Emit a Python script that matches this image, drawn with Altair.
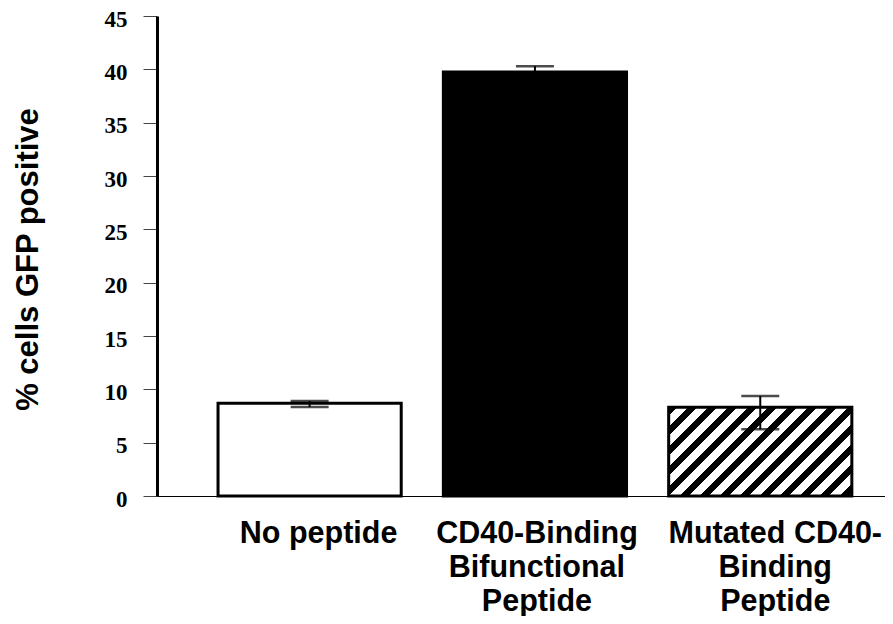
import altair as alt
import pandas as pd

# ---- data ----
categories = ["No peptide", "CD40-Binding Bifunctional Peptide", "Mutated CD40-Binding Peptide"]
label_lines = [["No peptide"], ["CD40-Binding", "Bifunctional", "Peptide"], ["Mutated CD40-", "Binding", "Peptide"]]
values = [8.7, 39.75, 8.32]
err_low = [8.35, 39.2, 6.25]
err_high = [8.9, 40.3, 9.37]
fills = ["white", "black", "hatch"]
y_ticks = [0, 5, 10, 15, 20, 25, 30, 35, 40, 45]
y_title = "% cells GFP positive"

# ---- layout / style constants ----
PAD_LEFT, PAD_TOP, PAD_RIGHT, PAD_BOTTOM = 149, 8, 0, 120
PLOT_W, PLOT_H = 728, 480
Y_MAX = 45
P_INNER, P_OUTER, ALIGN = 0.187, 0.209, 0.648

df = pd.DataFrame({
    "category": categories,
    "value": values,
    "low": err_low,
    "high": err_high,
    "fill": fills,
})

# hatch pattern as a striped linear gradient (45 degree stripes)
step = PLOT_W / (len(categories) - P_INNER + 2 * P_OUTER)
bw = step * (1 - P_INNER)
hatch_val = values[fills.index("hatch")]
bh = hatch_val / Y_MAX * PLOT_H
r = bh / bw
s = (bw + bh) / (bw * (1 + r * r))
period = 20.0 / (bw + bh)
black_frac = 0.42
stops = []
k = 0
while k * period < 1.0:
    a = k * period
    b = min(a + black_frac * period, 1.0)
    c = min(a + period, 1.0)
    stops.append(alt.GradientStop(offset=round(a, 5), color="black"))
    stops.append(alt.GradientStop(offset=round(b, 5), color="black"))
    stops.append(alt.GradientStop(offset=round(b, 5), color="white"))
    stops.append(alt.GradientStop(offset=round(c, 5), color="white"))
    k += 1
hatch = alt.LinearGradient(gradient="linear", stops=stops, x1=0, y1=0, x2=s, y2=s * r)


def js(t):
    return "'" + t.replace("'", "\\'") + "'"


def arr(lines):
    return "[" + ",".join(js(l) for l in lines) + "]"


label_expr = arr(label_lines[-1])
for cat, lines in reversed(list(zip(categories, label_lines))[:-1]):
    label_expr = f"datum.value === {js(cat)} ? {arr(lines)} : {label_expr}"

x_enc = alt.X(
    "category:N",
    sort=categories,
    title=None,
    scale=alt.Scale(paddingInner=P_INNER, paddingOuter=P_OUTER, align=ALIGN),
    axis=alt.Axis(
        labelExpr=label_expr,
        labelAngle=0,
        labelAlign="center",
        labelBaseline="top",
        labelFont="Liberation Sans",
        labelFontWeight="bold",
        labelFontSize=30.5,
        labelColor="black",
        labelLineHeight=34,
        labelPadding=22,
        labelLimit=1000,
        labelOffset={
            "condition": [
                {"test": f"datum.value === {js(categories[0])}", "value": 9},
                {"test": f"datum.value === {js(categories[2])}", "value": 15},
            ],
            "value": 2,
        },
        ticks=False,
        tickSize=0,
        domainColor="black",
        domainWidth=1.2,
        grid=False,
    ),
)

y_scale = alt.Scale(domain=[0, Y_MAX], nice=False, zero=True)
y_enc = alt.Y(
    "value:Q",
    scale=y_scale,
    axis=alt.Axis(
        values=y_ticks,
        title=y_title,
        titleFont="Liberation Sans",
        titleFontWeight="bold",
        titleFontSize=31,
        titleColor="black",
        titleAngle=270,
        titleAlign="center",
        titleBaseline="alphabetic",
        titleX=-120,
        titleY=243,
        labelFont="Liberation Serif",
        labelFontWeight="bold",
        labelFontSize=23,
        labelColor="black",
        labelPadding=16,
        labelOffset=3,
        tickSize=14,
        tickColor="#444444",
        tickWidth=1,
        domainColor="black",
        domainWidth=3,
        grid=False,
    ),
)

base = alt.Chart(df)

solid_bars = base.transform_filter("datum.fill !== 'hatch'").mark_bar(
    stroke="black", strokeWidth=3
).encode(x=x_enc, y=y_enc, fill=alt.Fill("fill:N", scale=None))

hatch_bar = base.transform_filter("datum.fill === 'hatch'").mark_bar(
    stroke="black", strokeWidth=3, fill=hatch
).encode(x=x_enc, y=y_enc)

stems = base.mark_rule(color="black", strokeWidth=2).encode(
    x=alt.X("category:N", sort=categories),
    y=alt.Y("low:Q", scale=y_scale),
    y2="high:Q",
)
caps_hi = base.mark_tick(color="black", size=38, thickness=2.5).encode(
    x=alt.X("category:N", sort=categories),
    y=alt.Y("high:Q", scale=y_scale),
)
caps_lo = base.mark_tick(color="black", size=38, thickness=2.5).encode(
    x=alt.X("category:N", sort=categories),
    y=alt.Y("low:Q", scale=y_scale),
)

chart = (
    alt.layer(solid_bars, hatch_bar, stems, caps_hi, caps_lo)
    .properties(
        width=PLOT_W,
        height=PLOT_H,
        autosize=alt.AutoSizeParams(type="none"),
        padding={"left": PAD_LEFT, "top": PAD_TOP, "right": PAD_RIGHT, "bottom": PAD_BOTTOM},
        background="white",
    )
    .configure_view(stroke=None)
)

chart.save("out.html", embed_options={"renderer": "svg", "actions": False})
